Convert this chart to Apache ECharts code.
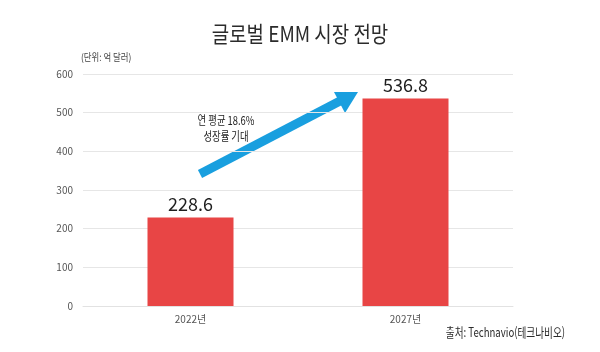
<!DOCTYPE html>
<html>
<head>
<meta charset="utf-8">
<script src="https://cdn.jsdelivr.net/npm/echarts@6/dist/echarts.min.js"></script>
<style>
  html, body { margin: 0; padding: 0; background: #fff; }
  #chart { width: 600px; height: 352px; }
</style>
</head>
<body>
<div id="chart"></div>
<script>
var years = ['2022년', '2027년'];
var marketSize = [228.6, 536.8];
var yTicks = { min: 0, max: 600, interval: 100 };

var font = '"Noto Sans CJK KR", "Noto Sans", sans-serif';
var chart = echarts.init(document.getElementById('chart'));

// condensed text helper (reference uses a narrow Korean face)
function narrowText(x, y, text, size, color, align, sx, extra) {
  return Object.assign({
    type: 'text',
    x: x, y: y,
    scaleX: sx,
    style: {
      x: 0, y: 0,
      text: text,
      fill: color,
      font: size + 'px ' + font,
      align: align,
      verticalAlign: 'middle'
    }
  }, extra || {});
}

var option = {
  backgroundColor: '#fff',
  animation: false,
  textStyle: { fontFamily: font },
  grid: { left: 83, right: 87, top: 74, bottom: 46 },
  xAxis: {
    type: 'category',
    data: years,
    axisLine: { lineStyle: { color: '#e2e2e2' } },
    axisTick: { show: false },
    axisLabel: { color: '#555', fontSize: 10, margin: 8 }
  },
  yAxis: {
    type: 'value',
    min: yTicks.min,
    max: yTicks.max,
    interval: yTicks.interval,
    axisLine: { show: false },
    axisTick: { show: false },
    splitLine: { lineStyle: { color: '#e6e6e6' } },
    axisLabel: { color: '#555', fontSize: 10, margin: 10 }
  },
  series: [{
    type: 'bar',
    data: marketSize,
    barWidth: '40%',
    itemStyle: { color: '#e84545' },
    label: {
      show: true,
      position: 'top',
      distance: 4,
      fontSize: 18,
      color: '#1e1e1e',
      fontFamily: font,
      formatter: function (p) { return p.value.toFixed(1); }
    }
  }],
  graphic: [
    narrowText(300, 34, '글로벌 EMM 시장 전망', 22, '#2b2b2b', 'center', 0.86),
    narrowText(81, 57, '(단위: 억 달러)', 10, '#444', 'left', 0.84),
    narrowText(226, 120, '연 평균 18.6%', 12, '#222', 'center', 0.78),
    narrowText(226, 136, '성장률 기대', 12, '#222', 'center', 0.78),
    {
      type: 'polyline',
      shape: { points: [[200, 174], [340, 101]] },
      style: { stroke: '#199fdf', lineWidth: 9, fill: null }
    },
    {
      type: 'polygon',
      shape: { points: [[334, 92], [358, 92], [345, 113]] },
      style: { fill: '#199fdf' }
    },
    narrowText(565, 332, '출처: Technavio(테크나비오)', 13, '#2b2b2b', 'right', 0.74)
  ]
};

chart.setOption(option);
</script>
</body>
</html>
